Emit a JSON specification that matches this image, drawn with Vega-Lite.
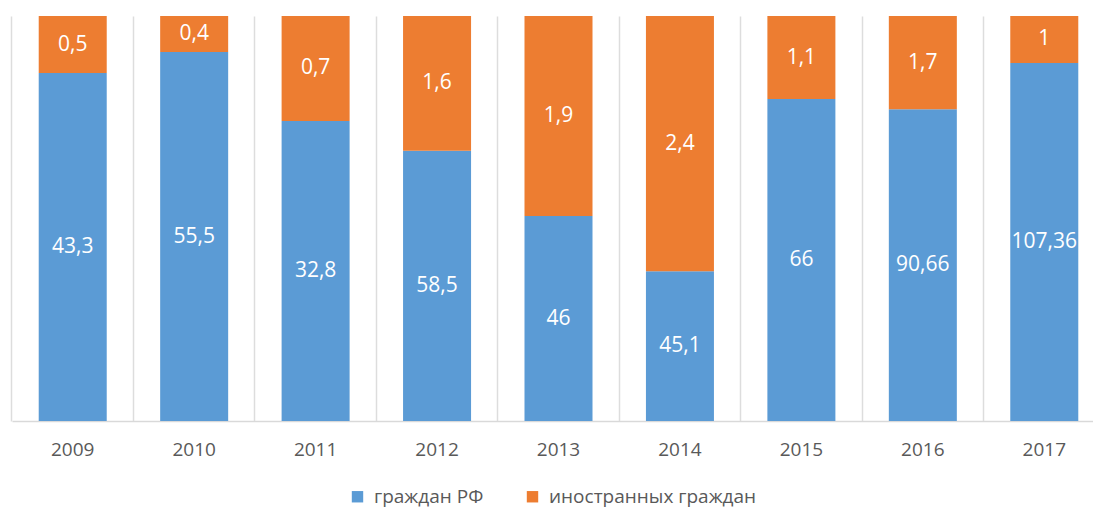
{
  "$schema": "https://vega.github.io/schema/vega-lite/v6.json",
  "width": 1093,
  "height": 405,
  "autosize": {"type": "none"},
  "padding": {"left": 12, "top": 16, "right": 0, "bottom": 89},
  "background": "white",
  "config": {"view": {"stroke": null}, "font": "Open Sans"},
  "data": {
    "values": [
      {"year": "2009", "series": "граждан РФ", "order": 1, "share": 0.859, "label": "43,3"},
      {"year": "2009", "series": "иностранных граждан", "order": 2, "share": 0.141, "label": "0,5"},
      {"year": "2010", "series": "граждан РФ", "order": 1, "share": 0.911, "label": "55,5"},
      {"year": "2010", "series": "иностранных граждан", "order": 2, "share": 0.089, "label": "0,4"},
      {"year": "2011", "series": "граждан РФ", "order": 1, "share": 0.741, "label": "32,8"},
      {"year": "2011", "series": "иностранных граждан", "order": 2, "share": 0.259, "label": "0,7"},
      {"year": "2012", "series": "граждан РФ", "order": 1, "share": 0.667, "label": "58,5"},
      {"year": "2012", "series": "иностранных граждан", "order": 2, "share": 0.333, "label": "1,6"},
      {"year": "2013", "series": "граждан РФ", "order": 1, "share": 0.506, "label": "46"},
      {"year": "2013", "series": "иностранных граждан", "order": 2, "share": 0.494, "label": "1,9"},
      {"year": "2014", "series": "граждан РФ", "order": 1, "share": 0.370, "label": "45,1"},
      {"year": "2014", "series": "иностранных граждан", "order": 2, "share": 0.630, "label": "2,4"},
      {"year": "2015", "series": "граждан РФ", "order": 1, "share": 0.795, "label": "66"},
      {"year": "2015", "series": "иностранных граждан", "order": 2, "share": 0.205, "label": "1,1"},
      {"year": "2016", "series": "граждан РФ", "order": 1, "share": 0.770, "label": "90,66"},
      {"year": "2016", "series": "иностранных граждан", "order": 2, "share": 0.230, "label": "1,7"},
      {"year": "2017", "series": "граждан РФ", "order": 1, "share": 0.884, "label": "107,36"},
      {"year": "2017", "series": "иностранных граждан", "order": 2, "share": 0.116, "label": "1"}
    ]
  },
  "transform": [
    {"stack": "share", "groupby": ["year"], "sort": [{"field": "order", "order": "ascending"}], "as": ["y0", "y1"]},
    {"calculate": "(datum.y0 + datum.y1) / 2", "as": "ymid"}
  ],
  "resolve": {"axis": {"x": "independent"}},
  "layer": [
    {
      "mark": {"type": "bar"},
      "encoding": {
        "x": {
          "field": "year",
          "type": "ordinal",
          "scale": {"paddingInner": 0.44, "paddingOuter": 0.22},
          "axis": {
            "orient": "top",
            "title": null,
            "labels": false,
            "ticks": false,
            "domain": false,
            "grid": true,
            "bandPosition": -0.393,
            "gridColor": "#DDDDDD",
            "gridWidth": 1.5,
            "zindex": 0
          }
        },
        "y": {"field": "y0", "type": "quantitative", "scale": {"domain": [0, 1]}, "axis": null},
        "y2": {"field": "y1"},
        "color": {
          "field": "series",
          "type": "nominal",
          "scale": {"domain": ["граждан РФ", "иностранных граждан"], "range": ["#5B9BD5", "#ED7D31"]},
          "legend": {
            "title": null,
            "orient": "none",
            "direction": "horizontal",
            "legendX": 336,
            "legendY": 471,
            "symbolType": "square",
            "symbolSize": 130,
            "symbolStrokeWidth": 0,
            "labelFontSize": 19,
            "labelColor": "#595959",
            "labelFont": "Open Sans",
            "labelLimit": 400,
            "columnPadding": 39,
            "labelOffset": 7
          }
        }
      }
    },
    {
      "mark": {"type": "text", "color": "white", "fontSize": 21, "font": "Open Sans"},
      "encoding": {
        "x": {
          "field": "year",
          "type": "ordinal",
          "axis": {
            "orient": "bottom",
            "title": null,
            "labelAngle": 0,
            "ticks": false,
            "grid": false,
            "domainColor": "#D9D9D9",
            "domainWidth": 1.5,
            "labelFontSize": 19,
            "labelColor": "#595959",
            "labelFont": "Open Sans",
            "labelPadding": 19
          }
        },
        "y": {"field": "ymid", "type": "quantitative", "scale": {"domain": [0, 1]}},
        "text": {"field": "label", "type": "nominal"}
      }
    }
  ]
}
